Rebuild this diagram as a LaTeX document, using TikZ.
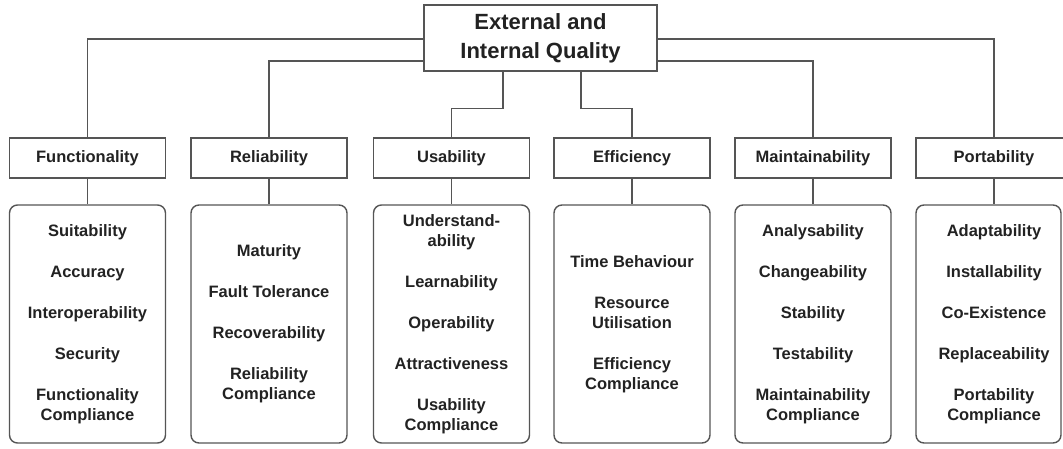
\documentclass[tikz,border=0pt]{standalone}
\usepackage{fontspec}
\setmainfont{Liberation Sans}
\definecolor{ln}{HTML}{555555}
\definecolor{tx}{HTML}{222222}
\tikzset{
  base/.style={draw=ln, line width=1.4pt, text=tx, align=center, inner sep=0pt,
    font=\bfseries\fontsize{16.5}{20}\selectfont},
  topbox/.style={base, minimum width=233pt, minimum height=66pt,
    font=\bfseries\fontsize{22}{29}\selectfont},
  catbox/.style={base, minimum width=156pt, minimum height=40pt},
  detail/.style={base, rounded corners=8pt, minimum width=156pt, minimum height=238pt},
  plain/.style={text=tx, align=center, inner sep=0pt,
    font=\bfseries\fontsize{16.5}{20}\selectfont},
  conn/.style={draw=ln, line width=1.4pt},
}
\begin{document}
\begin{tikzpicture}[x=1pt,y=-1pt]
\useasboundingbox (0,0) rectangle (1063,448);
\clip (0,0) rectangle (1063,448);
\fill[white] (0,0) rectangle (1063,448);

\node[topbox] (title) at (540.5,38) {External and\\Internal Quality};

\node[catbox] (fun) at (87.5,158) {Functionality};
\node[catbox] (rel) at (269,158) {Reliability};
\node[catbox] (usa) at (451.5,158) {Usability};
\node[catbox] (eff) at (632,158) {Efficiency};
\node[catbox] (mai) at (813,158) {Maintainability};
\node[catbox] (por) at (994,158) {Portability};

\node[detail] (fund) at (87.5,324) {Suitability\\[21pt]Accuracy\\[21pt]Interoperability\\[21pt]Security\\[21pt]Functionality\\Compliance};
\node[detail] (reld) at (269,324) {Maturity\\[21pt]Fault Tolerance\\[21pt]Recoverability\\[21pt]Reliability\\Compliance};
\node[detail] (usad) at (451.5,324) {Understand-\\ability\\[21pt]Learnability\\[21pt]Operability\\[21pt]Attractiveness\\[21pt]Usability\\Compliance};
\node[detail] (effd) at (632,324) {Time Behaviour\\[21pt]Resource\\Utilisation\\[21pt]Efficiency\\Compliance};
\node[detail] (maid) at (813,324) {Analysability\\[21pt]Changeability\\[21pt]Stability\\[21pt]Testability\\[21pt]Maintainability\\Compliance};
\node[detail, minimum width=145pt] (pord) at (988.5,324) {};
\node[plain] (porl) at (994,324) {Adaptability\\[21pt]Installability\\[21pt]Co-Existence\\[21pt]Replaceability\\[21pt]Portability\\Compliance};

% connectors from the title
\draw[conn] ([yshift=-1pt]title.west) -| (fun.north);
\draw[conn] ([yshift=-23pt]title.west) -| (rel.north);
\draw[conn] ([yshift=-1pt]title.east) -| (por.north);
\draw[conn] ([yshift=-23pt]title.east) -| (mai.north);
\draw[conn] ([xshift=-37.5pt]title.south) -- ++(0,37) -| (usa.north);
\draw[conn] ([xshift=40.5pt]title.south) -- ++(0,37) -| (eff.north);

% category to detail
\draw[conn] (fun.south) -- (fund.north);
\draw[conn] (rel.south) -- (reld.north);
\draw[conn] (usa.south) -- (usad.north);
\draw[conn] (eff.south) -- (effd.north);
\draw[conn] (mai.south) -- (maid.north);
\draw[conn] (por.south) -- (por.south |- pord.north);
\end{tikzpicture}
\end{document}
